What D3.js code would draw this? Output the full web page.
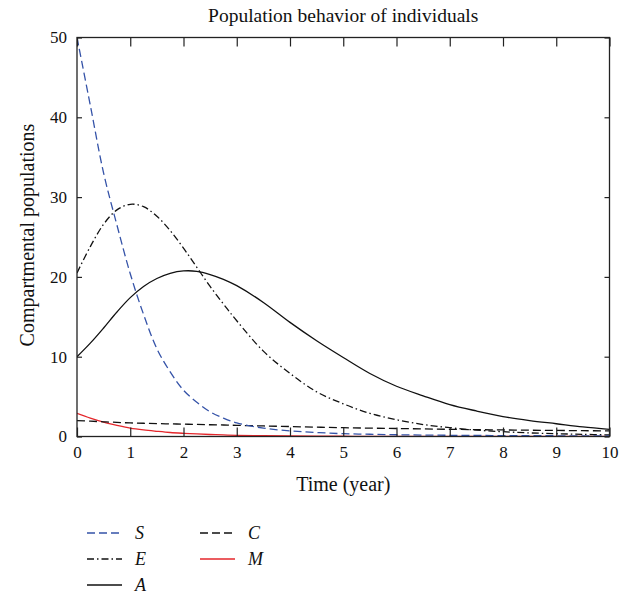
<!DOCTYPE html>
<html>
<head>
<meta charset="utf-8">
<script src="https://cdn.jsdelivr.net/npm/d3@7"></script>
<style>
  html, body { margin: 0; padding: 0; background: #fff; }
  svg { display: block; font-family: "Liberation Serif", "DejaVu Serif", serif; }
  .tick text { font-size: 17px; fill: #111; }
</style>
</head>
<body>
<div id="chart"></div>
<script>
// Values (time in years, populations).
const timeYears = [0, 0.25, 0.5, 0.75, 1, 1.25, 1.5, 1.75, 2, 2.25, 2.5, 2.75, 3,
  3.5, 4, 4.5, 5, 5.5, 6, 6.5, 7, 7.5, 8, 8.5, 9, 9.5, 10];
const susceptible = [50, 41.5, 33, 26.5, 20.4, 15.3, 11, 8.1, 5.8, 4.3, 3.1, 2.3, 1.7,
  1.05, 0.7, 0.5, 0.35, 0.28, 0.22, 0.18, 0.15, 0.13, 0.11, 0.1, 0.09, 0.085, 0.08];
const exposed = [20.5, 23.8, 26.6, 28.4, 29.1, 28.8, 27.6, 25.8, 23.6, 21.2, 18.8, 16.6, 14.5,
  10.7, 7.9, 5.6, 4.1, 2.9, 2.1, 1.5, 1.1, 0.8, 0.6, 0.45, 0.35, 0.27, 0.2];
const acute = [10, 11.7, 13.6, 15.6, 17.4, 18.8, 19.8, 20.45, 20.75, 20.7, 20.3, 19.7, 18.9,
  16.8, 14.3, 12.0, 9.9, 7.9, 6.3, 5.1, 4.0, 3.2, 2.5, 2.0, 1.6, 1.2, 0.9];
const chronic = [2.0, 1.92, 1.84, 1.77, 1.7, 1.66, 1.62, 1.58, 1.55, 1.51, 1.47, 1.44, 1.4,
  1.32, 1.25, 1.17, 1.1, 1.05, 1.0, 0.95, 0.9, 0.86, 0.82, 0.79, 0.76, 0.73, 0.7];
const migrated = [2.9, 2.3, 1.8, 1.4, 1.05, 0.82, 0.65, 0.5, 0.4, 0.32, 0.25, 0.2, 0.15,
  0.1, 0.06, 0.04, 0.03, 0.02, 0.02, 0.015, 0.01, 0.01, 0.01, 0.01, 0.01, 0.01, 0.01];

const seriesNames = ["S", "E", "A", "C", "M"];
const xTicks = [0, 1, 2, 3, 4, 5, 6, 7, 8, 9, 10];
const yTicks = [0, 10, 20, 30, 40, 50];

const chartTitle = "Population behavior of individuals";
const xLabel = "Time (year)";
const yLabel = "Compartmental populations";

// ---- layout --------------------------------------------------------------- //
const W = 629, H = 596;
const plot = { left: 77, top: 37.5, right: 609.5, bottom: 436.5 };

const svg = d3.select("#chart").append("svg")
  .attr("width", W).attr("height", H)
  .attr("viewBox", `0 0 ${W} ${H}`);

const x = d3.scaleLinear().domain([0, 10]).range([plot.left, plot.right]);
const y = d3.scaleLinear().domain([0, 50]).range([plot.bottom, plot.top]);

// line style per series: colour + dash pattern (MATLAB-like)
const styles = {
  S: { color: "#3553a8", dash: "8,4" },
  E: { color: "#111", dash: "7,3,1.5,3" },
  A: { color: "#111", dash: null },
  C: { color: "#111", dash: "8,4" },
  M: { color: "#e4262b", dash: null }
};
const valuesFor = { S: susceptible, E: exposed, A: acute, C: chronic, M: migrated };

// ---- curves (drawn first so the frame sits on top) ------------------------ //
// Catmull-Rom keeps the peaks of E and A round instead of flattening them
const line = d3.line()
  .x((d) => x(d[0]))
  .y((d) => y(d[1]))
  .curve(d3.curveCatmullRom.alpha(0.5));

const curves = svg.append("g")
  .attr("clip-path", "url(#plotClip)");
svg.append("clipPath").attr("id", "plotClip").append("rect")
  .attr("x", plot.left).attr("y", plot.top - 2)
  .attr("width", plot.right - plot.left).attr("height", plot.bottom - plot.top + 2);

// draw order: M under the black ones, like the reference
["M", "C", "A", "E", "S"].forEach((name) => {
  const pts = timeYears.map((t, i) => [t, valuesFor[name][i]]);
  curves.append("path")
    .datum(pts)
    .attr("d", line)
    .attr("fill", "none")
    .attr("stroke", styles[name].color)
    .attr("stroke-width", 1.3)
    .attr("stroke-dasharray", styles[name].dash);
});

// ---- axes: ticks point inward on all four sides --------------------------- //
const axisBottom = d3.axisBottom(x).tickValues(xTicks).tickSizeInner(-9).tickSizeOuter(0).tickPadding(9);
const axisTop = d3.axisTop(x).tickValues(xTicks).tickSizeInner(-9).tickSizeOuter(0).tickFormat("");
const axisLeft = d3.axisLeft(y).tickValues(yTicks).tickSizeInner(-5).tickSizeOuter(0).tickPadding(10);
const axisRight = d3.axisRight(y).tickValues(yTicks).tickSizeInner(-5).tickSizeOuter(0).tickFormat("");

function styleAxis(g) {
  g.select(".domain").remove();
  g.selectAll(".tick line").attr("stroke", "#222").attr("stroke-width", 1.2);
  g.selectAll(".tick text").attr("font-family", "Liberation Serif, serif");
}

svg.append("g").attr("transform", `translate(0,${plot.bottom})`).call(axisBottom).call(styleAxis)
  .selectAll(".tick text").attr("dy", "0.71em");
svg.append("g").attr("transform", `translate(0,${plot.top})`).call(axisTop).call(styleAxis);
svg.append("g").attr("transform", `translate(${plot.left},0)`).call(axisLeft).call(styleAxis);
svg.append("g").attr("transform", `translate(${plot.right},0)`).call(axisRight).call(styleAxis);

svg.append("rect")
  .attr("x", plot.left).attr("y", plot.top)
  .attr("width", plot.right - plot.left).attr("height", plot.bottom - plot.top)
  .attr("fill", "none").attr("stroke", "#222").attr("stroke-width", 1.3);

// ---- titles ---------------------------------------------------------------- //
svg.append("text")
  .attr("x", (plot.left + plot.right) / 2).attr("y", 21.5)
  .attr("text-anchor", "middle")
  .attr("font-size", 19.5).attr("fill", "#111")
  .text(chartTitle);

svg.append("text")
  .attr("x", (plot.left + plot.right) / 2).attr("y", 491)
  .attr("text-anchor", "middle")
  .attr("font-size", 20).attr("fill", "#111")
  .text(xLabel);

svg.append("text")
  .attr("transform", `translate(34,${(plot.top + plot.bottom) / 2 - 2}) rotate(-90)`)
  .attr("text-anchor", "middle")
  .attr("font-size", 20).attr("fill", "#111")
  .text(yLabel);

// ---- legend: three rows, filled column by column -------------------------- //
const legend = svg.append("g").attr("class", "legend");
seriesNames.forEach((name, i) => {
  const col = Math.floor(i / 3), row = i % 3;
  const lx = 87 + col * 113, ly = 533 + row * 26;
  legend.append("line")
    .attr("x1", lx).attr("x2", lx + 35)
    .attr("y1", ly).attr("y2", ly)
    .attr("stroke", styles[name].color)
    .attr("stroke-width", 1.3)
    .attr("stroke-dasharray", styles[name].dash);
  legend.append("text")
    .attr("x", lx + 48).attr("y", ly + 6)
    .attr("font-size", 18).attr("font-style", "italic").attr("fill", "#111")
    .text(name);
});
</script>
</body>
</html>
